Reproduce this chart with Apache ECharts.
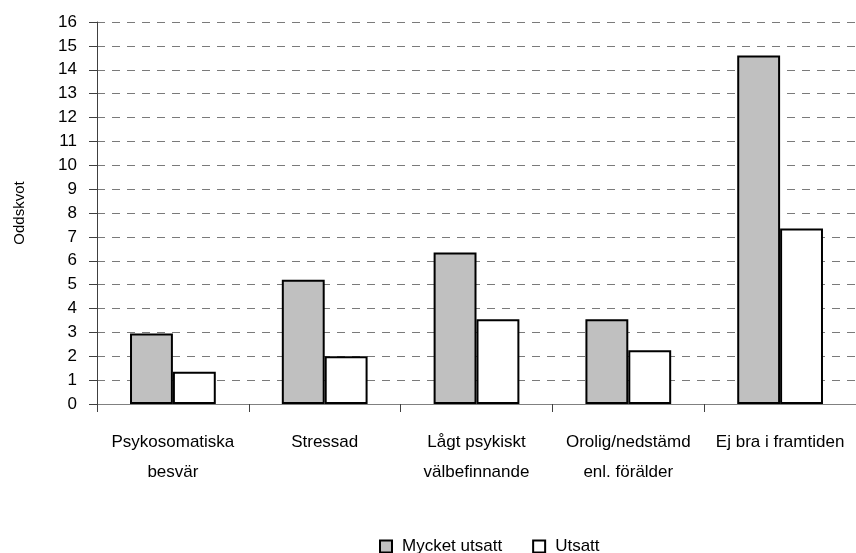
<!DOCTYPE html>
<html>
<head>
<meta charset="utf-8">
<script src="https://cdn.jsdelivr.net/npm/echarts@6/dist/echarts.min.js"></script>
<style>
html,body{margin:0;padding:0;background:#fff;}
#chart{width:856px;height:553px;}
</style>
</head>
<body>
<div id="chart"></div>
<script>
var categories = ["Psykosomatiska\nbesvär", "Stressad", "Lågt psykiskt\nvälbefinnande", "Orolig/nedstämd\nenl. förälder", "Ej bra i framtiden"];
var seriesNames = ["Mycket utsatt", "Utsatt"];
var mycketUtsatt = [2.95, 5.2, 6.35, 3.55, 14.6];
var utsatt = [1.35, 2.0, 3.55, 2.25, 7.35];
var yTicks = [0, 16, 1];

var font = "'Liberation Sans', Arial, sans-serif";
var chart = echarts.init(document.getElementById('chart'), null, {renderer: 'canvas'});
chart.setOption({
  animation: false,
  backgroundColor: '#ffffff',
  textStyle: {fontFamily: font, color: '#000'},
  grid: {left: 97, right: -3, top: 22, bottom: 149, containLabel: false},
  legend: {
    data: seriesNames,
    left: 374, top: 533,
    itemWidth: 12, itemHeight: 12, itemGap: 30,
    icon: 'rect',
    textStyle: {fontFamily: font, fontSize: 17, color: '#000', padding: [0, 0, 0, 5]}
  },
  xAxis: {
    type: 'category',
    data: categories,
    axisLine: {lineStyle: {color: '#808080', width: 1}},
    axisTick: {show: true, length: 8, lineStyle: {color: '#404040'}},
    axisLabel: {fontFamily: font, fontSize: 17, color: '#000', margin: 23, lineHeight: 30, interval: 0}
  },
  yAxis: {
    type: 'value',
    min: yTicks[0], max: yTicks[1], interval: yTicks[2],
    name: 'Oddskvot',
    nameLocation: 'middle',
    nameGap: 70,
    nameTextStyle: {fontFamily: font, fontSize: 15, color: '#000'},
    axisLine: {show: true, lineStyle: {color: '#404040', width: 1}},
    axisTick: {show: true, length: 8, lineStyle: {color: '#404040'}},
    axisLabel: {fontFamily: font, fontSize: 17, color: '#000', margin: 20},
    splitLine: {show: true, lineStyle: {color: '#7a7a7a', type: [8, 7], width: 1}}
  },
  series: [
    {name: seriesNames[0], type: 'bar', data: mycketUtsatt, barGap: '0%', barCategoryGap: '43.5%',
     itemStyle: {color: '#c0c0c0', borderColor: '#000', borderWidth: 2}},
    {name: seriesNames[1], type: 'bar', data: utsatt,
     itemStyle: {color: '#ffffff', borderColor: '#000', borderWidth: 2}}
  ]
});
</script>
</body>
</html>
